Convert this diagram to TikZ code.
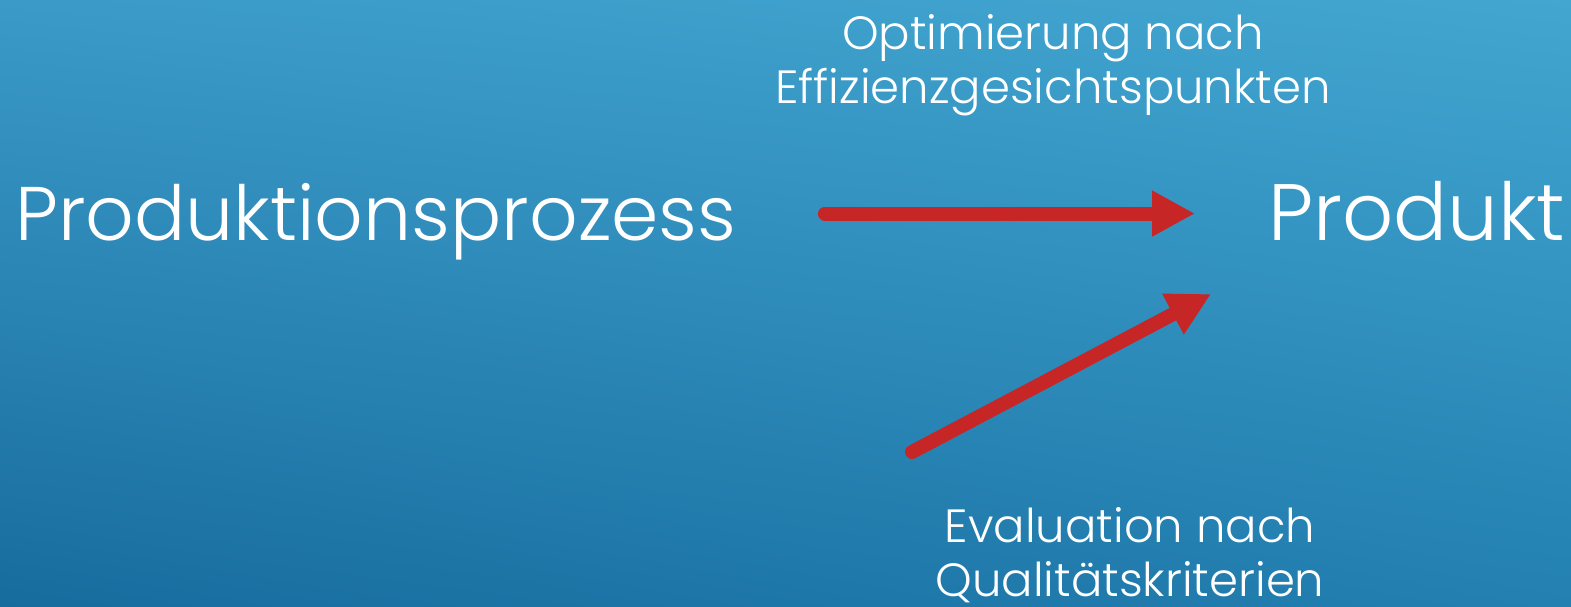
\documentclass[tikz,border=0pt]{standalone}
\usepackage{fontspec}
\setmainfont{Poppins}[UprightFont=* Light]
\usepackage{tikz}
\usetikzlibrary{arrows.meta,shadings}

\definecolor{bgtl}{RGB}{59,154,200}
\definecolor{bgtr}{RGB}{66,166,208}
\definecolor{bgbl}{RGB}{23,108,158}
\definecolor{bgbr}{RGB}{35,128,177}
\definecolor{arrowred}{RGB}{198,38,38}

\tikzset{
  bigtext/.style={text=white,inner sep=0pt,font=\fontsize{38}{42}\selectfont},
  smalltext/.style={text=white,inner sep=0pt,align=center,font=\fontsize{23.3}{27}\selectfont},
  redarrow/.style={draw=arrowred,line width=7pt,line cap=round,-{Triangle[length=21.5pt,width=21.5pt]}}
}

\begin{document}
\begin{tikzpicture}[x=0.5pt,y=-0.5pt]
          \shade[upper left=bgtl,upper right=bgtr,lower left=bgbl,lower right=bgbr]
            (0,0) rectangle (1571,606);
          \useasboundingbox (0,0) rectangle (1571,606);

          \node[bigtext,anchor=base west] (prozess) at (15,240) {Produktionsprozess};
          \node[bigtext,font=\fontsize{40}{44}\selectfont,anchor=base west] (produkt) at (1268,240) {Produkt};

          \node[smalltext,anchor=north] (optim) at (1053,14) {Optimierung nach\\Effizienzgesichtspunkten};
          \node[smalltext,anchor=north] (evaluation) at (1130,507) {Evaluation nach\\Qualitätskriterien};

          \coordinate (evalstart) at (912,452);
          \coordinate (evaltip) at (1211,294);

          \draw[redarrow] ([xshift=44pt,yshift=10.5pt]prozess.mid east) -- ([xshift=-36.5pt,yshift=10.5pt]prozess.mid east -| produkt.west);
          \draw[redarrow] (evalstart) -- (evaltip);
        \end{tikzpicture}
\end{document}
